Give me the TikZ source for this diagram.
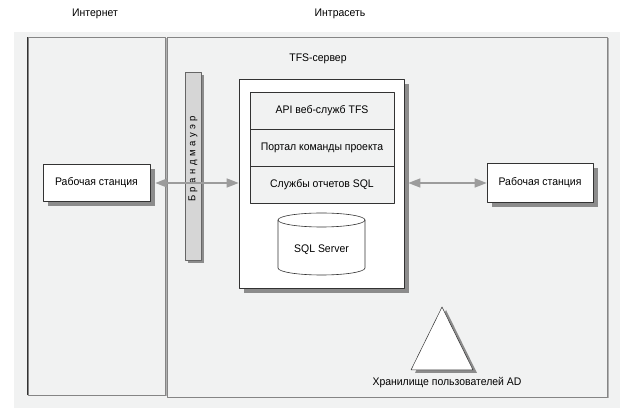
\documentclass[tikz,border=0pt]{standalone}
\usepackage{fontspec}
\setmainfont{Liberation Sans}[FakeStretch=0.95]
\usetikzlibrary{arrows.meta,shadows}

\definecolor{panel}{HTML}{F1F2F2}
\definecolor{edgegray}{HTML}{858585}
\definecolor{shadegray}{HTML}{8C8C8C}
\definecolor{wallgray}{HTML}{D6D6D6}
\definecolor{linkgray}{HTML}{9C9C9C}

\tikzset{
  txt/.style={font=\fontsize{11}{13}\selectfont},
  zone/.style={draw=edgegray, fill=panel, line width=0.8pt, inner sep=0pt,
    drop shadow={shadow xshift=1.5pt, shadow yshift=-1.5pt, fill=black!30, opacity=1}},
  box/.style={draw=black!80, fill=white, line width=0.6pt, inner sep=0pt, txt,
    drop shadow={shadow xshift=5pt, shadow yshift=-5pt, fill=shadegray, opacity=1}},
  layer/.style={draw=black!80, fill=panel, line width=0.6pt, inner sep=0pt, txt,
    minimum width=144pt, minimum height=37pt},
  link/.style={draw=linkgray, line width=1.4pt,
    {Triangle[length=12pt,width=9pt]}-{Triangle[length=12pt,width=9pt]}}
}

\begin{document}
\begin{tikzpicture}[x=1pt,y=1pt,line join=round]
  \useasboundingbox (0,0) rectangle (620,414);
  \fill[panel] (14,6) rectangle (620,382);

  % Internet / intranet zones
  \node[zone, minimum width=137pt, minimum height=358pt] (inet) at (96.5,198) {};
  \node[zone, minimum width=440pt, minimum height=360pt] (intra) at (387,197) {};
  \draw[black!80, line width=0.8pt] (inet.south west) -- (inet.north west);
  \node[txt] (inetlabel) at (95,400) {Интернет};
  \node[txt] (intralabel) at (340,400) {Интрасеть};

  % firewall
  \node[draw=black!60, fill=wallgray, minimum width=16pt, minimum height=188pt, inner sep=0pt,
    drop shadow={shadow xshift=3pt, shadow yshift=-3pt, fill=shadegray, opacity=1}]
    (wall) at (193,248) {};
  \node[rotate=90, font=\fontsize{10}{12}\selectfont\addfontfeature{LetterSpace=35}]
    (walltext) at (193,255) {Брандмауэр};

  % TFS server
  \node[box, minimum width=165pt, minimum height=209pt] (tfs) at (321.5,230.5) {};
  \node[txt] (tfslabel) at (318,355) {TFS-сервер};
  \node[layer] (api) at (322,303.5) {API веб-служб TFS};
  \node[layer] (portal) at (322,266.5) {Портал команды проекта};
  \node[layer] (reports) at (322,229.5) {Службы отчетов SQL};

  % database
  \draw[black!80, fill=white, line width=0.6pt]
    (278,194) -- (278,146) arc[start angle=180, end angle=360, x radius=43.5, y radius=7]
    -- (365,194);
  \draw[black!80, fill=white, line width=0.6pt] (321.5,194) ellipse[x radius=43.5, y radius=7];
  \node[txt] (sql) at (321.5,164) {SQL Server};

  % workstations
  \node[box, minimum width=107pt, minimum height=37pt] (wsleft) at (96.5,231) {Рабочая станция};
  \node[box, minimum width=106pt, minimum height=39pt] (wsright) at (540,231) {Рабочая станция};

  \draw[link] ([xshift=5pt]wsleft.east) -- (tfs.west |- wsleft.east);
  \draw[link] ([xshift=4pt]tfs.east |- wsright.west) -- (wsright.west);

  % AD store
  \coordinate (apex) at (442,107);
  \coordinate (baseL) at (411,44);
  \coordinate (baseR) at (473,44);
  \fill[shadegray] ([shift={(4,-3)}]apex) -- ([shift={(4,-3)}]baseR) -- ([shift={(4,-3)}]baseL) -- cycle;
  \draw[black!80, fill=white, line width=0.5pt] (apex) -- (baseR) -- (baseL) -- cycle;
  \node[txt] (adlabel) at (447,31) {Хранилище пользователей AD};
\end{tikzpicture}
\end{document}
